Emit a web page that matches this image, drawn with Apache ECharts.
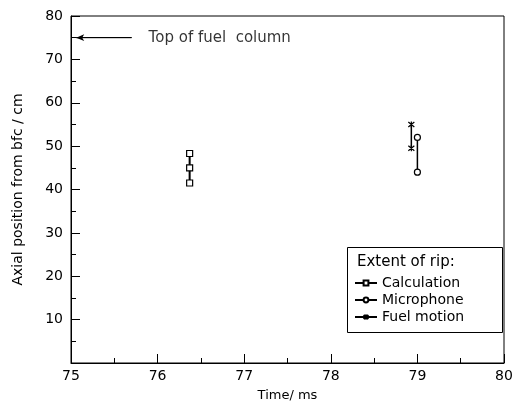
<!DOCTYPE html>
<html><head><meta charset="utf-8">
<script src="https://cdn.jsdelivr.net/npm/echarts@6/dist/echarts.min.js"></script>
<style>html,body{margin:0;padding:0;background:#fff}#c{width:520px;height:407px}</style>
</head><body><div id="c"></div>
<script>
const xTicks = [75, 76, 77, 78, 79, 80];
const yTicks = [10, 20, 30, 40, 50, 60, 70, 80];
const calcTime = 76.37;
const calcPos = [41.5, 45.0, 48.3];
const micTime = 79.0;
const micPos = [44.0, 52.0];
const fuelTime = 78.93;
const fuelPos = [49.5, 55.0];
const topOfFuel = 75;
const topArrowX = [75.7, 75.06];
const topLabel = 'Top of fuel  column';
const legendTitle = 'Extent of rip:';
const legendNames = ['Calculation', 'Microphone', 'Fuel motion'];

const F = 'DejaVu Sans';
const chart = echarts.init(document.getElementById('c'), null, {renderer: 'canvas'});
const asterisk = 'path://M0,0L10,10M10,0L0,10M5,-1L5,11';
chart.setOption({
  animation: false,
  backgroundColor: '#fff',
  textStyle: {fontFamily: F, color: '#000'},
  grid: {left: 71, right: 16, top: 16, bottom: 36, show: true, borderColor: '#000', borderWidth: 1},
  xAxis: {
    type: 'value', min: xTicks[0], max: xTicks[xTicks.length - 1], interval: 1,
    name: 'Time/ ms', nameLocation: 'middle', nameGap: 26,
    nameTextStyle: {fontFamily: F, fontSize: 13, color: '#000'},
    axisLine: {lineStyle: {color: '#000', width: 1}},
    axisTick: {inside: true, length: 9, lineStyle: {color: '#000'}},
    minorTick: {show: true, splitNumber: 2, length: 5, lineStyle: {color: '#000'}},
    axisLabel: {fontFamily: F, fontSize: 14, color: '#000', margin: 6},
    splitLine: {show: false}
  },
  yAxis: {
    type: 'value', min: 0, max: yTicks[yTicks.length - 1], interval: 10,
    name: 'Axial position from bfc / cm', nameLocation: 'middle', nameGap: 46,
    nameTextStyle: {fontFamily: F, fontSize: 14, color: '#000'},
    axisLine: {show: true, lineStyle: {color: '#000', width: 1}},
    axisTick: {show: true, inside: true, length: 9, lineStyle: {color: '#000'}},
    minorTick: {show: true, splitNumber: 2, length: 5, lineStyle: {color: '#000'}},
    axisLabel: {fontFamily: F, fontSize: 14, color: '#000', margin: 8,
      formatter: v => (yTicks.indexOf(v) >= 0 ? String(v) : '')},
    splitLine: {show: false}
  },
  legend: {
    orient: 'vertical', left: 354, top: 276,
    padding: 0, itemGap: 3, itemWidth: 22, itemHeight: 6,
    textStyle: {fontFamily: F, fontSize: 14, color: '#000'},
    data: legendNames
  },
  graphic: [
    {type: 'rect', left: 347, top: 247, z: 50,
      shape: {width: 155, height: 85},
      style: {fill: 'rgba(255,255,255,0)', stroke: '#000', lineWidth: 1}},
    {type: 'text', left: 357, top: 255, z: 100,
      style: {text: legendTitle, font: '15px "DejaVu Sans"', fill: '#000'}}
  ],
  series: [
    {
      name: legendNames[0], type: 'line',
      data: calcPos.map(p => [calcTime, p]),
      symbol: 'rect', symbolSize: 6,
      itemStyle: {color: '#fff', borderColor: '#000', borderWidth: 1.2},
      lineStyle: {color: '#000', width: 2}
    },
    {
      name: legendNames[1], type: 'line',
      data: micPos.map(p => [micTime, p]),
      symbol: 'circle', symbolSize: 6,
      itemStyle: {color: '#fff', borderColor: '#000', borderWidth: 1.2},
      lineStyle: {color: '#000', width: 1.5}
    },
    {
      name: legendNames[2], type: 'line',
      data: fuelPos.map(p => [fuelTime, p]),
      symbol: asterisk, symbolSize: 6,
      itemStyle: {color: '#000', borderColor: '#000', borderWidth: 1.2},
      lineStyle: {color: '#000', width: 1.5}
    },
    {
      name: 'top', type: 'line',
      data: topArrowX.map(x => [x, topOfFuel]),
      symbol: 'none',
      lineStyle: {color: '#000', width: 1},
      markLine: {
        silent: true, symbol: ['none', 'arrow'], symbolSize: [5, 8],
        lineStyle: {color: '#000', width: 1, type: 'solid'},
        label: {show: false},
        data: [[{coord: [topArrowX[0], topOfFuel]}, {coord: [topArrowX[1], topOfFuel]}]]
      }
    },
    {
      name: 'topLabel', type: 'scatter',
      data: [[topArrowX[0], topOfFuel]],
      symbolSize: 0, silent: true,
      label: {show: true, position: 'right', distance: 17, formatter: topLabel,
        fontFamily: F, fontSize: 15, color: '#000'}
    }
  ]
});
</script></body></html>
